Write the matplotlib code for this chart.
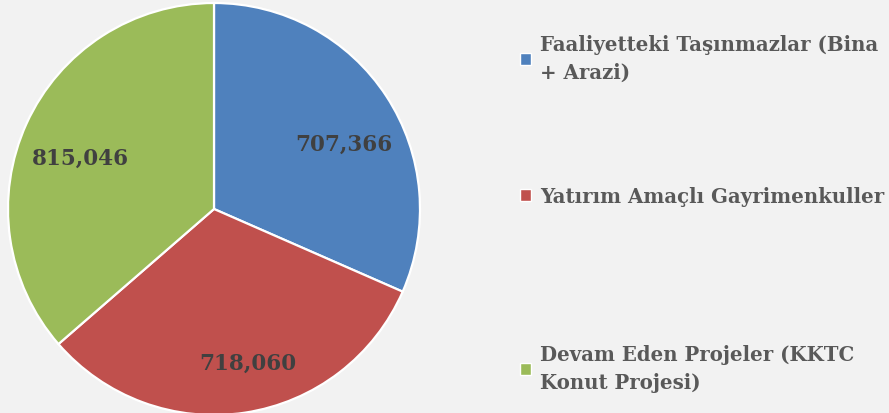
import matplotlib
matplotlib.use('Agg')
import matplotlib.pyplot as plt
from matplotlib.patches import Patch

plt.rcParams['font.family'] = ['DejaVu Serif']

# veriler
categories = ['Faaliyetteki Taşınmazlar (Bina\n+ Arazi)',
              'Yatırım Amaçlı Gayrimenkuller',
              'Devam Eden Projeler (KKTC\nKonut Projesi)']
values = [707366, 718060, 815046]
colors = ['#4F81BD', '#C0504D', '#9BBB59']

# etiket konumlari (pasta yaricapina gore, excel "best fit" gibi)
label_pos = [(0.63, 0.33), (0.165, -0.735), (-0.65, 0.26)]

bg = '#F2F2F2'
fig = plt.figure(figsize=(8.89, 4.14), dpi=100, facecolor=bg)
ax = fig.add_axes([8 / 889, -2 / 414, 412 / 889, 412 / 414])
ax.set_facecolor(bg)

wedges, texts = ax.pie(values, colors=colors, startangle=90, counterclock=False,
                       labels=[f'{v:,}' for v in values], labeldistance=0.72,
                       wedgeprops=dict(edgecolor='white', linewidth=1.6),
                       textprops=dict(fontsize=15.5, fontweight='bold', color='#404040'))
for t, p in zip(texts, label_pos):
    t.set_position(p)
    t.set_ha('center')
    t.set_va('center_baseline')
ax.set_xlim(-1, 1)
ax.set_ylim(-1, 1)
ax.set_aspect('equal')

# lejant girisleri ayri ayri yerlestiriliyor
ys = [59 / 414, 197 / 414, 369 / 414]
for lab, col, y in zip(categories, colors, ys):
    h = Patch(facecolor=col, edgecolor='white', linewidth=1)
    leg = fig.legend([h], [lab], loc='center left', bbox_to_anchor=(520 / 889, 1 - y),
                     frameon=False, handlelength=0.55, handleheight=0.55, handletextpad=0.45,
                     borderpad=0, borderaxespad=0,
                     prop=dict(family='DejaVu Serif', weight='bold', size=14.2))
    for t in leg.get_texts():
        t.set_color('#595959')
        t.set_linespacing(1.52)

fig.savefig('out.png', dpi=100, facecolor=bg)
